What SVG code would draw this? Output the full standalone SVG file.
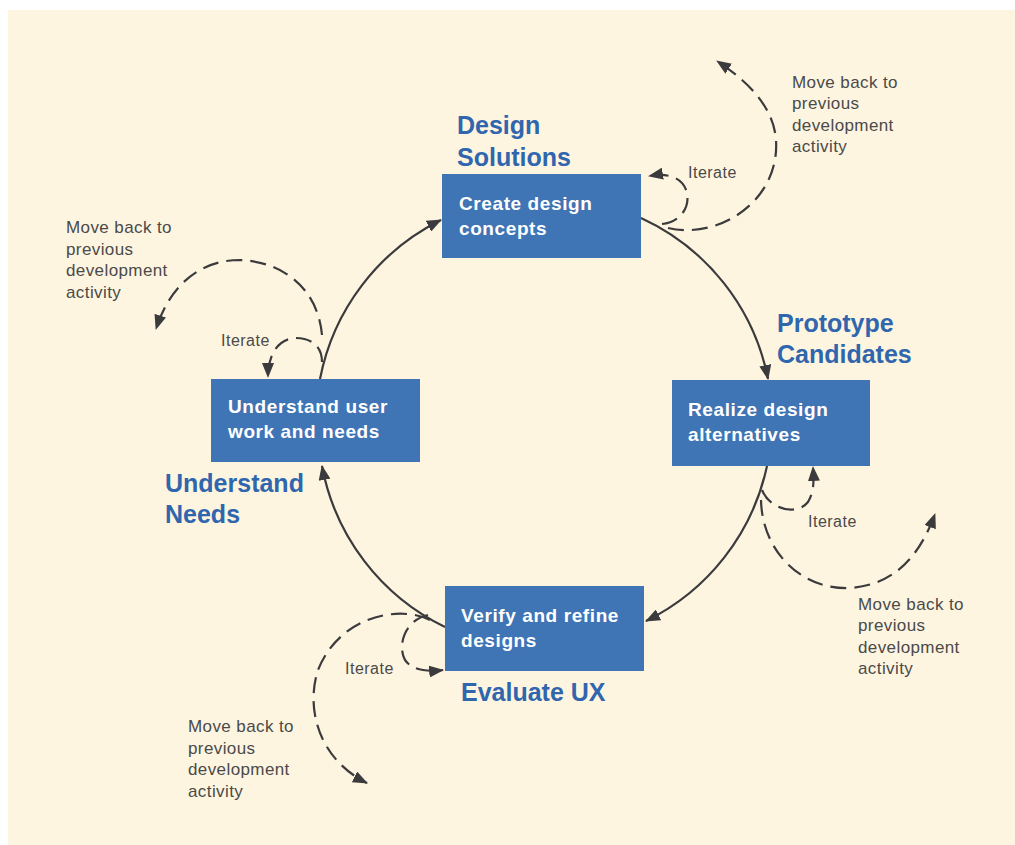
<svg xmlns="http://www.w3.org/2000/svg" width="1015" height="845" viewBox="0 0 1015 845">
<defs>
<style>
.box{fill:#3F74B5;}
.bt{font-family:"Liberation Sans",Arial,sans-serif;font-weight:bold;font-size:19px;letter-spacing:0.6px;fill:#ffffff;}
.lab{font-family:"Liberation Sans",Arial,sans-serif;font-weight:bold;font-size:25px;fill:#2F66AE;}
.gt{font-family:"Liberation Sans",Arial,sans-serif;font-size:17px;letter-spacing:0.4px;fill:#4a4a4a;}
.it{font-family:"Liberation Sans",Arial,sans-serif;font-size:16px;letter-spacing:0.5px;fill:#4a4a4a;}
.solid{fill:none;stroke:#3b3b3d;stroke-width:2.2;marker-end:url(#ah);}
.dash{fill:none;stroke:#3b3b3d;stroke-width:2.2;stroke-dasharray:16 8;marker-end:url(#ah);}
</style>
<marker id="ah" viewBox="0 0 15 12" refX="14" refY="6" markerWidth="15" markerHeight="12" markerUnits="userSpaceOnUse" orient="auto">
<path d="M0,0 L15,6 L0,12 z" fill="#3b3b3d"/>
</marker>
</defs>
<rect x="0" y="0" width="1015" height="845" fill="#ffffff"/>
<rect x="8" y="10" width="1007" height="835" fill="#FEF5E0"/>

<g id="connectors">
<path class="solid" d="M320,379 A225,225 0 0 1 441,220"/>
<path class="solid" d="M641,218 A225,225 0 0 1 768,379"/>
<path class="solid" d="M767,466 A225,225 0 0 1 646,621"/>
<path class="solid" d="M445,627 A225,225 0 0 1 322,466"/>

<path class="dash" d="M662,224 C680,222 690,208 687,193 C684,180 672,172 649,176"/>
<path class="dash" d="M668,228 C720,240 780,200 776,140 C774,110 752,84 717,61"/>

<path class="dash" d="M322,362 C322,345 310,338 295,338 C280,339 268,352 268,377"/>
<path class="dash" d="M322,335 C318,290 285,262 240,260 C200,260 170,285 156,329"/>

<path class="dash" d="M762,490 C770,510 797,516 808,502 C814,492 814,482 813,467"/>
<path class="dash" d="M761,500 C762,550 800,590 850,588 C895,585 920,555 935,514"/>

<path class="dash" d="M428,615 C405,620 397,645 405,660 C412,670 425,672 443,670"/>
<path class="dash" d="M430,620 C400,605 340,615 318,670 C305,710 320,760 367,783"/>
</g>

<g id="node-create">
<rect class="box" x="442" y="174" width="199" height="84"/>
<text class="bt" x="459" y="210">Create design</text>
<text class="bt" x="459" y="235">concepts</text>
</g>
<g id="node-realize">
<rect class="box" x="672" y="380" width="198" height="86"/>
<text class="bt" x="688" y="416">Realize design</text>
<text class="bt" x="688" y="441">alternatives</text>
</g>
<g id="node-understand">
<rect class="box" x="211" y="379" width="209" height="83"/>
<text class="bt" x="228" y="413">Understand user</text>
<text class="bt" x="228" y="438">work and needs</text>
</g>
<g id="node-verify">
<rect class="box" x="445" y="586" width="199" height="85"/>
<text class="bt" x="461" y="622">Verify and refine</text>
<text class="bt" x="461" y="647">designs</text>
</g>

<g id="labels">
<text class="lab" x="457" y="134">Design</text>
<text class="lab" x="457" y="166">Solutions</text>
<text class="lab" x="777" y="332">Prototype</text>
<text class="lab" x="777" y="363">Candidates</text>
<text class="lab" x="165" y="492">Understand</text>
<text class="lab" x="165" y="523">Needs</text>
<text class="lab" x="461" y="701">Evaluate UX</text>
</g>

<g id="notes">
<text class="gt" x="792" y="88">Move back to</text>
<text class="gt" x="792" y="109">previous</text>
<text class="gt" x="792" y="131">development</text>
<text class="gt" x="792" y="152">activity</text>

<text class="gt" x="66" y="233">Move back to</text>
<text class="gt" x="66" y="255">previous</text>
<text class="gt" x="66" y="276">development</text>
<text class="gt" x="66" y="298">activity</text>

<text class="gt" x="858" y="610">Move back to</text>
<text class="gt" x="858" y="631">previous</text>
<text class="gt" x="858" y="653">development</text>
<text class="gt" x="858" y="674">activity</text>

<text class="gt" x="188" y="732">Move back to</text>
<text class="gt" x="188" y="754">previous</text>
<text class="gt" x="188" y="775">development</text>
<text class="gt" x="188" y="797">activity</text>

<text class="it" x="688" y="178">Iterate</text>
<text class="it" x="221" y="346">Iterate</text>
<text class="it" x="808" y="527">Iterate</text>
<text class="it" x="345" y="674">Iterate</text>
</g>
</svg>
